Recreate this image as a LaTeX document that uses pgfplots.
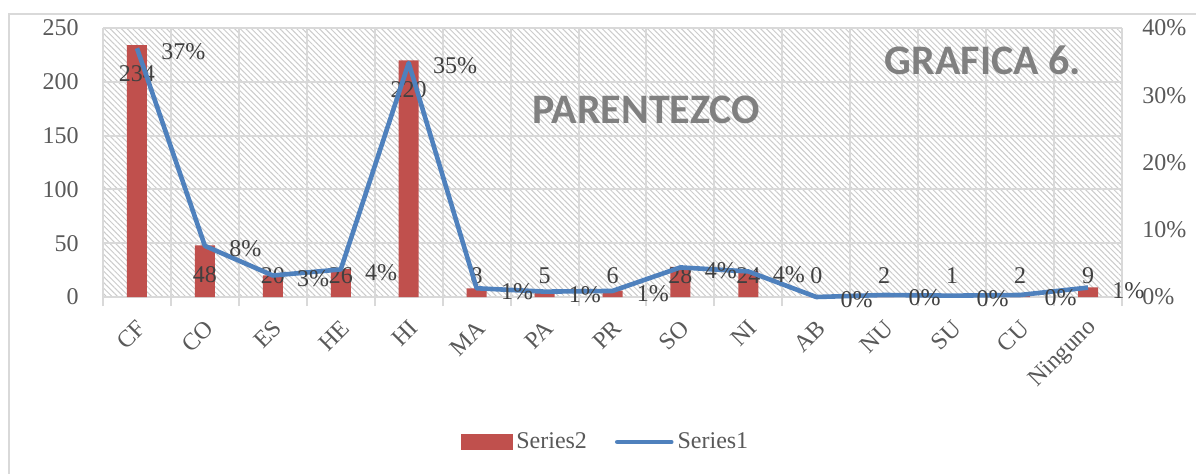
\documentclass[border=0pt]{standalone}
\usepackage{fontspec}
\setmainfont{Liberation Serif}
\newfontfamily\titlefont{Carlito}
\usepackage{pgfplots}
\usepackage{pgfplotstable}
\pgfplotsset{compat=1.18}
\usetikzlibrary{patterns.meta}
\definecolor{barred}{HTML}{C0504D}
\definecolor{lineblue}{HTML}{4F81BD}
\definecolor{gridgray}{HTML}{D9D9D9}
\definecolor{ticktext}{HTML}{595959}
\definecolor{labtext}{HTML}{404040}
\definecolor{titlegray}{HTML}{808080}
\newcommand\lbl{\fontsize{12}{14}\selectfont}

\pgfplotstableread{
x v ly p pl
1 234 208 0.370 37
2 48 21 0.076 8
3 20 20 0.032 3
4 26 20 0.041 4
5 220 193 0.348 35
6 8 20 0.013 1
7 5 20 0.008 1
8 6 20 0.009 1
9 28 20 0.044 4
10 24 20 0.038 4
11 0 20 0.000 0
12 2 20 0.003 0
13 1 20 0.002 0
14 2 20 0.003 0
15 9 20 0.014 1
}\datatable

\begin{document}
\begin{tikzpicture}
\path[use as bounding box] (0,0) rectangle (598pt,236.5pt);
\clip (0,0) rectangle (598pt,236.5pt);
\fill[white] (0,0) rectangle (598pt,236.5pt);
\draw[gridgray, line width=1pt] (4.5pt,229.5pt) rectangle (620pt,-20pt);

\begin{axis}[
  at={(51.5pt,88pt)}, anchor=south west,
  scale only axis, width=509.5pt, height=134.5pt,
  xmin=0.5, xmax=15.5, ymin=0, ymax=250,
  axis line style={draw=none},
  axis background/.style={pattern={Lines[angle=-45,distance=2pt,line width=0.5pt]}, pattern color=gray!40},
  xtick={1,...,15},
  xticklabels={CF,CO,ES,HE,HI,MA,PA,PR,SO,NI,AB,NU,SU,CU,Ninguno},
  minor xtick={0.5,1.5,...,15.5},
  xminorgrids, ymajorgrids,
  grid style={gridgray, line width=1pt},
  minor grid style={gridgray, line width=1pt},
  ytick={0,50,...,250},
  major tick length=0pt, minor tick length=4.5pt,
  tick align=outside, xtick pos=bottom, ytick pos=left,
  tick style={gridgray, line width=1pt},
  ticklabel style={font=\lbl, text=ticktext},
  xticklabel style={inner sep=0pt, xshift=2.5pt, yshift=-13.5pt, rotate=45, anchor=east},
  yticklabel style={inner sep=0pt, anchor=east, xshift=-12pt},
  /pgf/number format/assume math mode=true,
  clip=false,
]
\addplot[ybar, bar width=10pt, fill=barred, draw=none] table[x=x,y=v]{\datatable};
\addplot[only marks, mark=*, mark size=0pt, mark options={draw=none,fill=none},
  nodes near coords, point meta=explicit symbolic,
  every node near coord/.style={font=\lbl, text=labtext, anchor=center, inner sep=0pt}]
  table[x=x, y=ly, meta=v]{\datatable};
\end{axis}

\begin{axis}[
  at={(51.5pt,88pt)}, anchor=south west,
  scale only axis, width=509.5pt, height=134.5pt,
  xmin=0.5, xmax=15.5, ymin=0, ymax=0.4,
  axis x line=none, axis y line*=right,
  y axis line style={draw=none},
  ytick={0,0.1,0.2,0.3,0.4},
  yticklabels={0\%,10\%,20\%,30\%,40\%},
  major tick length=0pt,
  yticklabel style={font=\lbl, text=ticktext, inner sep=0pt, anchor=west, xshift=10pt},
  clip=false,
  legend style={at={(0.494,-0.539)}, anchor=center, draw=none, fill=none,
    legend columns=2, font=\lbl, text=ticktext,
    /tikz/every even column/.append style={column sep=12pt}},
]
\addlegendimage{legend image code/.code={\fill[barred] (0pt,-3.75pt) rectangle (25.5pt,3.75pt);}}
\addlegendentry{Series2}
\addlegendimage{legend image code/.code={\draw[lineblue, line width=2.3pt, line cap=round] (0pt,0pt) -- (27pt,0pt);}}
\addlegendentry{Series1}
\addplot[lineblue, line width=2.3pt, mark=none, forget plot, line join=round] table[x=x,y=p]{\datatable};
\addplot[only marks, mark=*, mark size=0pt, mark options={draw=none,fill=none}, forget plot,
  nodes near coords={\pgfplotspointmeta\%}, point meta=explicit symbolic,
  every node near coord/.style={font=\lbl, text=labtext, anchor=west, inner sep=0pt, xshift=12pt, yshift=-1.5pt}]
  table[x=x, y=p, meta=pl]{\datatable};
\end{axis}

\node[font=\titlefont\bfseries\fontsize{21}{25}\selectfont, text=titlegray] at (323pt,181.5pt) {PARENTEZCO};
\node[font=\titlefont\bfseries\fontsize{21}{25}\selectfont, text=titlegray] at (491.5pt,206.5pt) {GRAFICA 6.};
\end{tikzpicture}
\end{document}
